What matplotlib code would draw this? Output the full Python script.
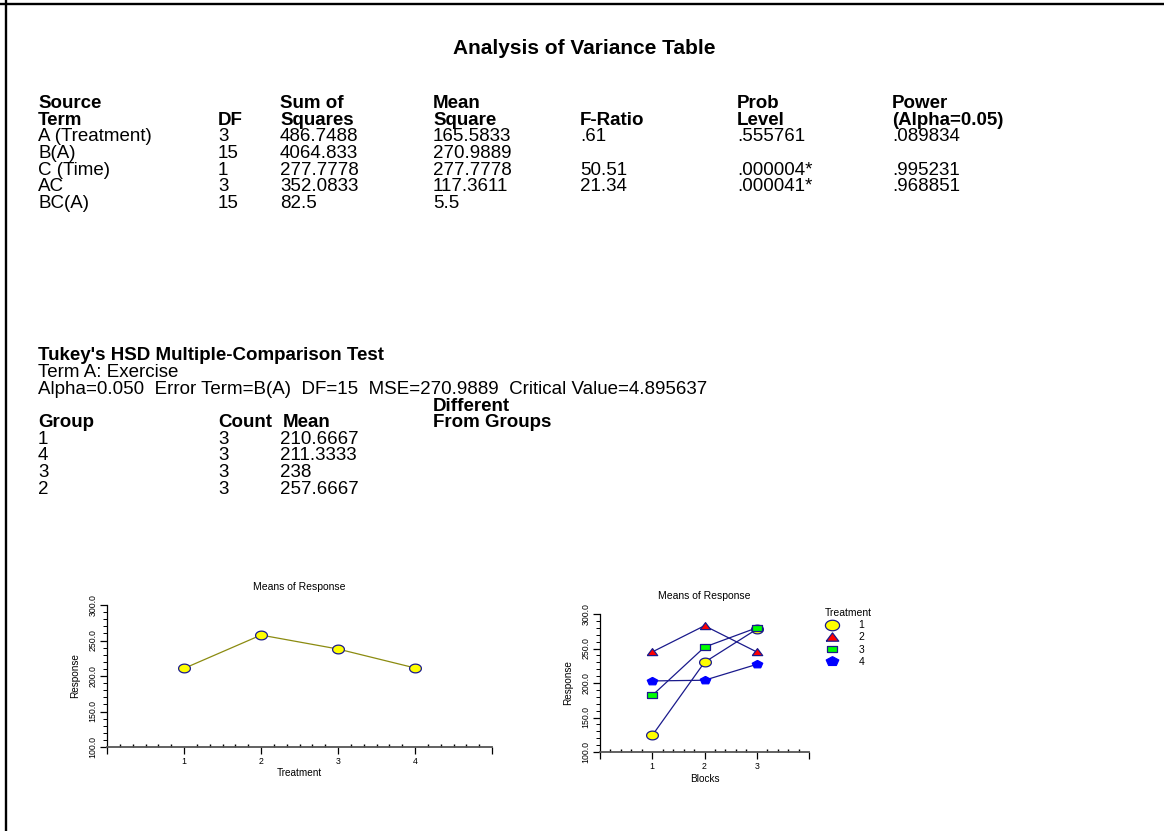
import numpy as np
import matplotlib
matplotlib.use('Agg')
import matplotlib.pyplot as plt
from matplotlib.lines import Line2D
from matplotlib.ticker import MultipleLocator, AutoMinorLocator

plt.rcParams['font.family'] = ['Liberation Sans', 'DejaVu Sans']

W, H = 1164, 831

# ---- ANOVA table ----
anova_title = "Analysis of Variance Table"
anova_head1 = ["Source", "", "Sum of", "Mean", "", "Prob", "Power"]
anova_head2 = ["Term", "DF", "Squares", "Square", "F-Ratio", "Level", "(Alpha=0.05)"]
anova_terms = ["A (Treatment)", "B(A)", "C (Time)", "AC", "BC(A)"]
anova_df = ["3", "15", "1", "3", "15"]
anova_ss = ["486.7488", "4064.833", "277.7778", "352.0833", "82.5"]
anova_ms = ["165.5833", "270.9889", "277.7778", "117.3611", "5.5"]
anova_f = [".61", "", "50.51", "21.34", ""]
anova_prob = [".555761", "", ".000004*", ".000041*", ""]
anova_power = [".089834", "", ".995231", ".968851", ""]

# ---- Tukey test ----
tukey_title = "Tukey's HSD Multiple-Comparison Test"
tukey_term = "Term A: Exercise"
tukey_info = "Alpha=0.050  Error Term=B(A)  DF=15  MSE=270.9889  Critical Value=4.895637"
tukey_head1 = ["", "", "", "Different"]
tukey_head2 = ["Group", "Count", "Mean", "From Groups"]
tukey_group = ["1", "4", "3", "2"]
tukey_count = ["3", "3", "3", "3"]
tukey_mean = ["210.6667", "211.3333", "238", "257.6667"]

# ---- chart data ----
treatments = [1, 2, 3, 4]
treatment_means = [210.6667, 257.6667, 238.0, 211.3333]

blocks = [1, 2, 3]
means_t1 = [124, 230, 278]
means_t2 = [245, 283, 245]
means_t3 = [182, 252, 280]
means_t4 = [203, 204, 227]
legend_labels = ["1", "2", "3", "4"]

# column / row layout (pixels)
COLS = [38, 218, 280, 433, 580, 737, 892]
FS = 13.5


def px_text(fig, x, y, s, bold=False, size=FS, ha='left'):
    # y is the visual centre of the capitals; place baseline below it
    base = y + 0.36 * size * 100 / 72
    fig.text(x / W, 1 - base / H, s, fontsize=size, ha=ha, va='baseline',
             fontweight='bold' if bold else 'normal')


def stretched(verts, sx=1.35):
    return [(sx * x, y) for x, y in verts]


t = np.linspace(0, 2 * np.pi, 41)
M_ELL = stretched(list(zip(np.cos(t), np.sin(t))))
M_TRI = stretched([(-1, -0.8), (1, -0.8), (0, 1), (-1, -0.8)])
M_SQR = stretched([(-1, -0.8), (1, -0.8), (1, 0.8), (-1, 0.8), (-1, -0.8)])
a = np.pi / 2 + np.arange(6) * 2 * np.pi / 5
M_PEN = stretched(list(zip(np.cos(a), np.sin(a))))

NAVY = '#1a1a8c'


def style_axes(ax, xmax, xminor, title_pad):
    ax.set_ylim(100, 300)
    ax.set_xlim(0, xmax)
    for s in ('top', 'right'):
        ax.spines[s].set_visible(False)
    ax.spines['bottom'].set_color('#555555')
    ax.spines['bottom'].set_linewidth(1.3)
    ax.spines['left'].set_linewidth(0.9)
    ax.yaxis.set_major_locator(MultipleLocator(50))
    ax.yaxis.set_minor_locator(MultipleLocator(10))
    ax.set_xticks(range(0, xmax + 1))
    ax.set_xticklabels([''] + [str(i) for i in range(1, xmax)] + [''])
    ax.xaxis.set_minor_locator(AutoMinorLocator(xminor))
    ax.yaxis.set_major_formatter('{x:.1f}')
    ax.tick_params(axis='both', which='major', direction='out', length=5,
                   width=0.9, labelsize=6.3, pad=2)
    ax.tick_params(axis='y', which='minor', direction='out', length=3, width=0.7)
    ax.tick_params(axis='x', which='minor', direction='in', length=2, width=1.0)
    for lab in ax.get_yticklabels():
        lab.set_rotation(90)
        lab.set_va('center')
    ax.set_ylabel("Response", fontsize=7.2, labelpad=6)
    ax.set_title("Means of Response", fontsize=7.5, pad=title_pad)
    ax.patch.set_alpha(0)


fig = plt.figure(figsize=(W / 100, H / 100), dpi=100)

# frame lines (top and left)
fig.add_artist(Line2D([0, 1], [1 - 4.3 / H] * 2, transform=fig.transFigure,
                      color='black', lw=1.7))
fig.add_artist(Line2D([5.5 / W] * 2, [0, 1], transform=fig.transFigure,
                      color='black', lw=1.7))

px_text(fig, 584, 46, anova_title, bold=True, size=15, ha='center')
for c, (h1, h2) in enumerate(zip(anova_head1, anova_head2)):
    px_text(fig, COLS[c], 101, h1, bold=True)
    px_text(fig, COLS[c], 118, h2, bold=True)
row_y = [134, 151, 168, 184, 201]
for r, y in enumerate(row_y):
    vals = [anova_terms[r], anova_df[r], anova_ss[r], anova_ms[r],
            anova_f[r], anova_prob[r], anova_power[r]]
    for c, v in enumerate(vals):
        px_text(fig, COLS[c], y, v)

px_text(fig, COLS[0], 353, tukey_title, bold=True)
px_text(fig, COLS[0], 370, tukey_term)
px_text(fig, COLS[0], 387, tukey_info)
for c, (h1, h2) in enumerate(zip(tukey_head1, tukey_head2)):
    px_text(fig, COLS[c], 404, h1, bold=True)
    px_text(fig, COLS[c] + (3 if c == 2 else 0), 420, h2, bold=True)
for r, y in enumerate([437, 453, 470, 487]):
    px_text(fig, COLS[0], y, tukey_group[r])
    px_text(fig, COLS[1], y, tukey_count[r])
    px_text(fig, COLS[2], y, tukey_mean[r])

# ---- left chart ----
ax1 = fig.add_axes([107 / W, 1 - 747 / H, 385 / W, 142 / H])
ax1.plot(treatments, treatment_means, color='#8b8b10', lw=0.9,
         marker=M_ELL, ms=8.5, mfc='#ffff00', mec=NAVY, mew=0.9, zorder=3)
style_axes(ax1, 5, 6, 11)
ax1.set_xlabel("Treatment", fontsize=7.2, labelpad=2)

# ---- right chart ----
ax2 = fig.add_axes([600 / W, 1 - 752 / H, 209 / W, 138 / H])
series = [means_t1, means_t2, means_t3, means_t4]
mk = [M_ELL, M_TRI, M_SQR, M_PEN]
fc = ['#ffff00', '#ff0000', '#00ff00', '#0000ff']
ec = [NAVY, NAVY, NAVY, '#0000ff']
ms = [8.5, 7.5, 6.5, 7.5]
handles = []
for vals, m, f, e, s, lab in zip(series, mk, fc, ec, ms, legend_labels):
    ax2.plot(blocks, vals, color=NAVY, lw=0.9, marker=m, ms=s, mfc=f,
             mec=e, mew=0.9, zorder=3)
    handles.append(Line2D([0], [0], lw=0, marker=m, ms=s * 1.2, mfc=f,
                          mec=e, mew=0.9, label=lab))
style_axes(ax2, 4, 5, 11)
ax2.set_xlabel("Blocks", fontsize=7.2, labelpad=2)
leg = fig.legend(handles=handles, loc='upper left',
                 bbox_to_anchor=(818 / W, 1 - 601 / H),
                 bbox_transform=fig.transFigure, frameon=False,
                 title="Treatment", fontsize=7.5, title_fontsize=7.5,
                 handlelength=1.2, handletextpad=2.0, labelspacing=0.2,
                 alignment='left', borderpad=0.2)

fig.savefig('out.png', dpi=100, facecolor='white')
